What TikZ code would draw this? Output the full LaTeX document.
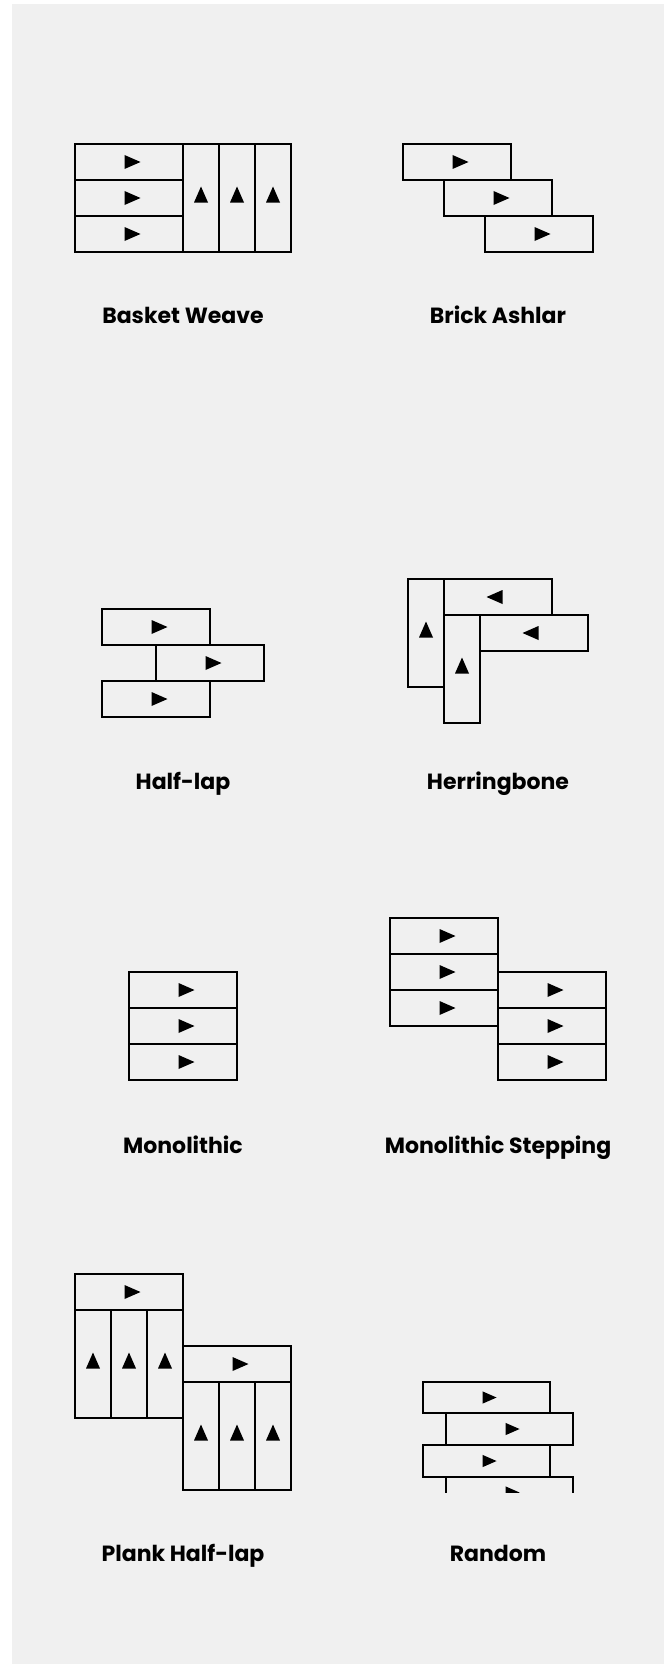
\documentclass[tikz,border=0pt]{standalone}
\usepackage{fontspec}
\newfontfamily\labfont{Poppins}
\definecolor{bggray}{HTML}{F0F0F0}
\newcommand{\ptri}[4]{\fill[black, shift={(#1,#2)}, rotate=#3, scale=#4] (-4.5,-7) -- (11.5,0) -- (-4.5,7) -- cycle;}
\begin{document}
\begin{tikzpicture}[x=1pt,y=-1pt,
  brick/.style={draw=black, line width=2pt, line join=miter},
  lab/.style={font=\labfont\bfseries\fontsize{22}{26}\selectfont, anchor=base, inner sep=0pt, text=black}]
\useasboundingbox (0,0) rectangle (670,1664);
\fill[white] (0,0) rectangle (670,1664);
\fill[bggray] (12,4) rectangle (663.6,1664);

% Basket Weave
\draw[brick] (75,144) rectangle (183,180); \ptri{129}{162}{0}{1}
\draw[brick] (75,180) rectangle (183,216); \ptri{129}{198}{0}{1}
\draw[brick] (75,216) rectangle (183,252); \ptri{129}{234}{0}{1}
\draw[brick] (183,144) rectangle (219,252); \ptri{201}{198}{90}{1}
\draw[brick] (219,144) rectangle (255,252); \ptri{237}{198}{90}{1}
\draw[brick] (255,144) rectangle (291,252); \ptri{273}{198}{90}{1}
\node[lab] (basket) at (183,323.5) {Basket Weave};

% Brick Ashlar
\draw[brick] (403,144) rectangle (511,180); \ptri{457}{162}{0}{1}
\draw[brick] (444,180) rectangle (552,216); \ptri{498}{198}{0}{1}
\draw[brick] (485,216) rectangle (593,252); \ptri{539}{234}{0}{1}
\node[lab] (ashlar) at (498,323.5) {Brick Ashlar};

% Half-lap
\draw[brick] (102,609) rectangle (210,645); \ptri{156}{627}{0}{1}
\draw[brick] (156,645) rectangle (264,681); \ptri{210}{663}{0}{1}
\draw[brick] (102,681) rectangle (210,717); \ptri{156}{699}{0}{1}
\node[lab] (halflap) at (183,789.5) {Half-lap};

% Herringbone
\draw[brick] (408,579) rectangle (444,687); \ptri{426}{633}{90}{1}
\draw[brick] (444,579) rectangle (552,615); \ptri{498}{597}{180}{1}
\draw[brick] (444,615) rectangle (480,723); \ptri{462}{669}{90}{1}
\draw[brick] (480,615) rectangle (588,651); \ptri{534}{633}{180}{1}
\node[lab] (herring) at (498,789.5) {Herringbone};

% Monolithic
\draw[brick] (129,972) rectangle (237,1008); \ptri{183}{990}{0}{1}
\draw[brick] (129,1008) rectangle (237,1044); \ptri{183}{1026}{0}{1}
\draw[brick] (129,1044) rectangle (237,1080); \ptri{183}{1062}{0}{1}
\node[lab] (mono) at (183,1153.4) {Monolithic};

% Monolithic Stepping
\draw[brick] (390,918) rectangle (498,954); \ptri{444}{936}{0}{1}
\draw[brick] (390,954) rectangle (498,990); \ptri{444}{972}{0}{1}
\draw[brick] (390,990) rectangle (498,1026); \ptri{444}{1008}{0}{1}
\draw[brick] (498,972) rectangle (606,1008); \ptri{552}{990}{0}{1}
\draw[brick] (498,1008) rectangle (606,1044); \ptri{552}{1026}{0}{1}
\draw[brick] (498,1044) rectangle (606,1080); \ptri{552}{1062}{0}{1}
\node[lab] (monostep) at (498,1153.4) {Monolithic Stepping};

% Plank Half-lap
\draw[brick] (75,1274) rectangle (183,1310); \ptri{129}{1292}{0}{1}
\draw[brick] (75,1310) rectangle (111,1418); \ptri{93}{1364}{90}{1}
\draw[brick] (111,1310) rectangle (147,1418); \ptri{129}{1364}{90}{1}
\draw[brick] (147,1310) rectangle (183,1418); \ptri{165}{1364}{90}{1}
\draw[brick] (183,1346) rectangle (291,1382); \ptri{237}{1364}{0}{1}
\draw[brick] (183,1382) rectangle (219,1490); \ptri{201}{1436}{90}{1}
\draw[brick] (219,1382) rectangle (255,1490); \ptri{237}{1436}{90}{1}
\draw[brick] (255,1382) rectangle (291,1490); \ptri{273}{1436}{90}{1}
\node[lab] (plank) at (183,1561) {Plank Half-lap};

% Random
\begin{scope}
\clip (400,1370) rectangle (600,1492);
\draw[brick] (423,1382) rectangle (550,1413); \ptri{486.5}{1397.5}{0}{0.875}
\draw[brick] (446,1413) rectangle (573,1445); \ptri{509.5}{1429}{0}{0.875}
\draw[brick] (423,1445) rectangle (550,1477); \ptri{486.5}{1461}{0}{0.875}
\draw[brick] (446,1477) rectangle (573,1508); \ptri{509.5}{1492.5}{0}{0.875}
\end{scope}
\node[lab] (random) at (498,1561) {Random};
\end{tikzpicture}
\end{document}
